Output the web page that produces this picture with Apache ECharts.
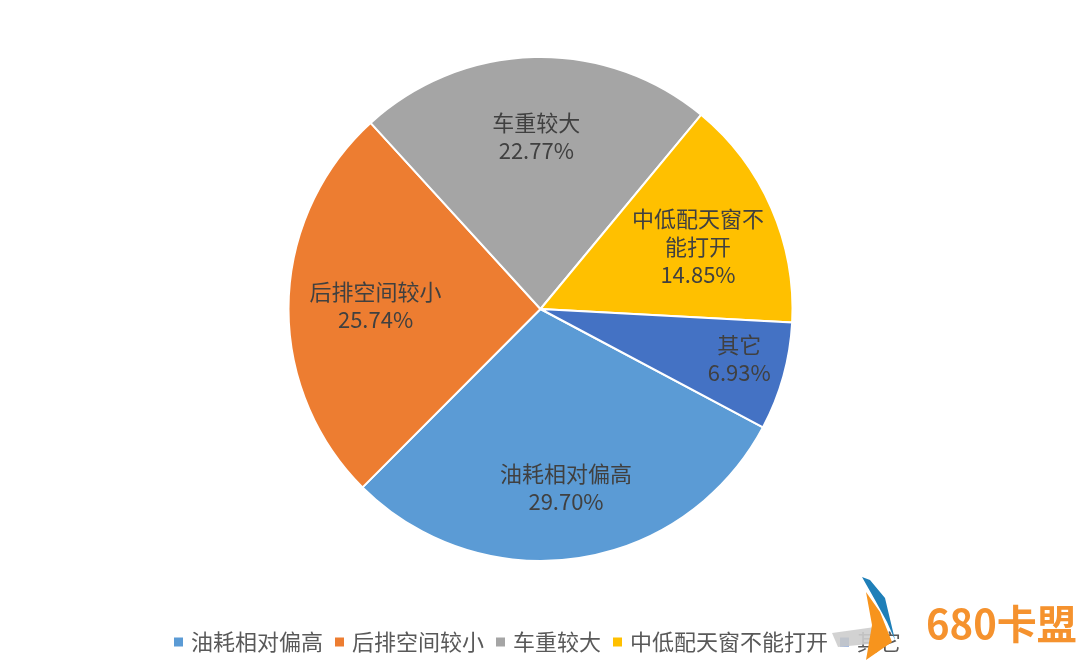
<!DOCTYPE html>
<html><head><meta charset="utf-8">
<script src="https://cdn.jsdelivr.net/npm/echarts@6/dist/echarts.min.js"></script>
<style>html,body{margin:0;padding:0;background:#fff}#c{width:1080px;height:669px}</style>
</head><body><div id="c"></div>
<script>
const categories = ['油耗相对偏高', '后排空间较小', '车重较大', '中低配天窗不能打开', '其它'];
const values = [29.70, 25.74, 22.77, 14.85, 6.93];
const labelNames = ['油耗相对偏高', '后排空间较小', '车重较大', '中低配天窗不\n能打开', '其它'];
const colors = ['#5B9BD5', '#ED7D31', '#A5A5A5', '#FFC000', '#4472C4'];
const labelNudges = [[0, 9], [7, 0], [0, 0], [0, 7], [33, 4]];

const font = '"Noto Sans CJK SC", "Noto Sans", sans-serif';
const chart = echarts.init(document.getElementById('c'));
const dataMain = categories.map((n, i) => ({ name: n, value: values[i], itemStyle: { color: colors[i] } }));
const dataLabel = categories.map((n, i) => ({ name: n, value: values[i], label: { offset: labelNudges[i], formatter: labelNames[i] + '\n' + values[i].toFixed(2) + '%' } }));
chart.setOption({
  animation: false,
  color: colors,
  legend: {
    data: categories, left: 167, top: 626, icon: 'rect', itemWidth: 11, itemHeight: 11, itemGap: 10,
    textStyle: { fontFamily: font, fontSize: 22, color: '#595959', padding: [0, 0, 0, 2] }
  },
  series: [{
    type: 'pie', center: [540.5, 309], radius: [0, 252], startAngle: -28, clockwise: true,
    silent: true, label: { show: false }, labelLine: { show: false },
    itemStyle: { borderColor: '#fff', borderWidth: 2 }, data: dataMain
  }, {
    type: 'pie', center: [540.5, 309], radius: [0, 338], startAngle: -28, clockwise: true,
    silent: true, legendHoverLink: false,
    itemStyle: { color: 'rgba(0,0,0,0)' },
    label: { show: true, position: 'inside', fontFamily: font, fontSize: 22, lineHeight: 28, color: '#404040', align: 'center' },
    labelLine: { show: false }, data: dataLabel
  }],
  graphic: [
    { type: 'polygon', z: 100, shape: { points: [[832, 633], [875, 627], [880, 643], [838, 647]] }, style: { fill: 'rgba(205,205,205,0.9)' } },
    { type: 'polygon', z: 101, shape: { points: [[862, 577], [870, 580], [885, 598], [895, 640], [887, 622], [875, 600]] }, style: { fill: '#1F7FB8' } },
    { type: 'polygon', z: 101, shape: { points: [[866, 592], [880, 612], [892, 642], [866, 660], [872, 625]] }, style: { fill: '#F7941D' } },
    { type: 'text', z: 102, left: 926, top: 604, style: { text: '680卡盟', fontSize: 40, fontWeight: 'bold', fontFamily: font, fill: '#F5922E' } }
  ]
});
</script></body></html>
